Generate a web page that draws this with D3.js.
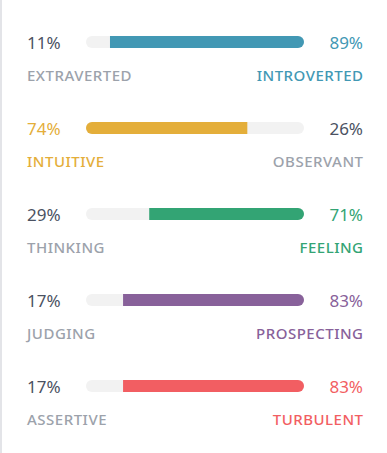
<!DOCTYPE html>
<html>
<head>
<meta charset="utf-8">
<script src="https://cdn.jsdelivr.net/npm/d3@7"></script>
<style>
  body { margin: 0; background: #fff; }
  svg { display: block; font-family: "Noto Sans", "Open Sans", sans-serif; }
</style>
</head>
<body>
<svg width="387" height="453"></svg>
<script>
const leftTraits = ["EXTRAVERTED", "INTUITIVE", "THINKING", "JUDGING", "ASSERTIVE"];
const rightTraits = ["INTROVERTED", "OBSERVANT", "FEELING", "PROSPECTING", "TURBULENT"];
const leftValues = [11, 74, 29, 17, 17];
const colors = ["#4298b4", "#e4ae3a", "#33a474", "#88619a", "#f25e62"];

const data = leftTraits.map((t, i) => ({
  left: t,
  right: rightTraits[i],
  lv: leftValues[i],
  rv: 100 - leftValues[i],
  color: colors[i],
  leftWins: leftValues[i] > 50
}));

const svg = d3.select("svg");
const width = +svg.attr("width");
const height = +svg.attr("height");
const textDark = "#4b5262";
const textGrey = "#9ca2ab";

svg.append("rect")
  .attr("x", 0).attr("y", 0)
  .attr("width", 2).attr("height", height)
  .attr("fill", "#e3e4e8");

const yScale = d3.scaleBand()
  .domain(data.map(d => d.left))
  .range([-1, 429]);
const xScale = d3.scaleLinear().domain([0, 100]).range([86, 304]);
const barH = 12;

const rows = svg.selectAll("g.row")
  .data(data)
  .enter()
  .append("g")
  .attr("class", "row")
  .attr("transform", d => `translate(0,${yScale(d.left) + yScale.bandwidth() / 2})`);

rows.append("clipPath")
  .attr("id", (d, i) => "clip" + i)
  .append("rect")
  .attr("x", xScale(0))
  .attr("y", -barH / 2)
  .attr("width", xScale(100) - xScale(0))
  .attr("height", barH)
  .attr("rx", barH / 2);

rows.append("rect")
  .attr("x", xScale(0))
  .attr("y", -barH / 2)
  .attr("width", xScale(100) - xScale(0))
  .attr("height", barH)
  .attr("rx", barH / 2)
  .attr("fill", "#f2f2f2");

rows.append("rect")
  .attr("clip-path", (d, i) => `url(#clip${i})`)
  .attr("x", d => d.leftWins ? xScale(0) : xScale(d.lv))
  .attr("y", -barH / 2)
  .attr("width", d => d.leftWins ? xScale(d.lv) - xScale(0) : xScale(100) - xScale(d.lv))
  .attr("height", barH)
  .attr("fill", d => d.color);

rows.append("text")
  .attr("x", 27)
  .attr("y", 7)
  .style("font-size", "17px")
  .attr("fill", d => d.leftWins ? d.color : textDark)
  .text(d => d.lv + "%");

rows.append("text")
  .attr("x", 363)
  .attr("y", 7)
  .attr("text-anchor", "end")
  .style("font-size", "17px")
  .attr("fill", d => d.leftWins ? textDark : d.color)
  .text(d => d.rv + "%");

rows.append("text")
  .attr("x", 27)
  .attr("y", 39)
  .style("font-size", "15px")
  .style("font-weight", "500")
  .style("letter-spacing", "0.5px")
  .attr("fill", d => d.leftWins ? d.color : textGrey)
  .text(d => d.left);

rows.append("text")
  .attr("x", 363.5)
  .attr("y", 39)
  .attr("text-anchor", "end")
  .style("font-size", "15px")
  .style("font-weight", "500")
  .style("letter-spacing", "0.5px")
  .attr("fill", d => d.leftWins ? textGrey : d.color)
  .text(d => d.right);
</script>
</body>
</html>
